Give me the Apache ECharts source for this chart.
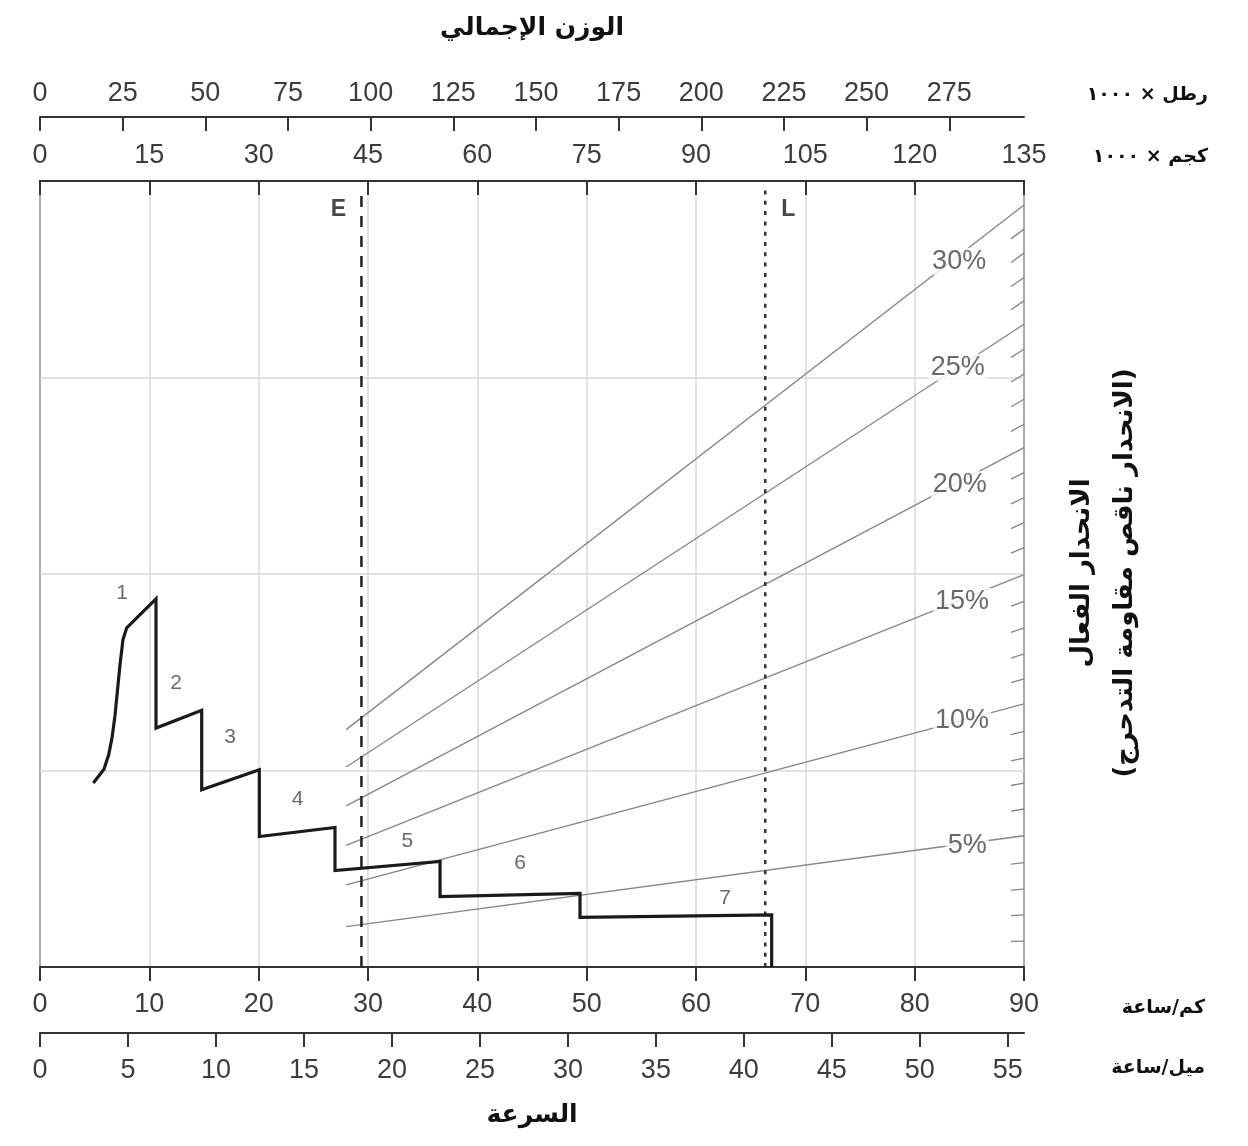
<!DOCTYPE html>
<html><head><meta charset="utf-8">
<script src="https://cdn.jsdelivr.net/npm/echarts@6/dist/echarts.min.js"></script>
<style>html,body{margin:0;padding:0;background:#fff}#c{width:1248px;height:1146px}</style>
</head><body><div id="c"></div>
<script>
// ---- axis scales ----
const kmhMax = 90;
const mphMax = 55.92;
const kgMax = 135;
const lbMax = 297.6;
const mphTicks = [0,5,10,15,20,25,30,35,40,45,50,55];
const lbTicks = [0,25,50,75,100,125,150,175,200,225,250,275];
const forceMax = 40;

// ---- rimpull curve (speed km/h, force units) ----
const rimpullSpeed = [4.88,5.85,6.28,6.59,6.86,7.09,7.32,7.59,7.93,10.61,10.61,14.79,14.79,20.06,20.06,26.98,26.98,36.59,36.59,49.39,49.39,66.92,66.92];
const rimpullForce = [9.36,10.07,10.80,11.67,12.79,14.11,15.39,16.66,17.26,18.74,12.16,13.06,9.02,10.04,6.64,7.10,4.91,5.37,3.58,3.75,2.53,2.65,0];

// ---- gear labels ----
const gearNames = ['1','2','3','4','5','6','7'];
const gearLabelSpeed = [7.5,12.44,17.38,23.55,33.6,43.9,62.65];
const gearLabelForce = [19.0,14.42,11.68,8.53,6.42,5.28,3.5];

// ---- grade lines (weight kg x1000, force units) ----
const gradeNames = ['5%','10%','15%','20%','25%','30%'];
const gradeStartWeight = 42;
const gradeStartForce = [2.05,4.18,6.19,8.2,10.18,12.08];
const gradeEndWeight = 135;
const gradeEndForce = [6.68,13.39,19.97,26.43,32.71,38.78];
const gradeLabelWeight = [127.2,126.5,126.5,126.2,125.9,126.1];
const gradeLabelForce = [6.17,12.54,18.6,24.56,30.52,35.92];
// minor grade ticks at right edge (1..29 %, excluding multiples of 5)
const gradeTickForce = [1.32,2.65,3.96,5.31,8.04,9.36,10.63,11.99,14.66,15.93,17.26,18.61,21.34,22.61,23.88,25.16,27.62,28.89,30.17,31.44,33.90,35.09,36.33,37.55];

// ---- empty / loaded weights ----
const weightMarkNames = ['E','L'];
const weightMarkValues = [44.1, 99.5];

const numFont = 'Liberation Sans, Arial, sans-serif';
const arFont = 'DejaVu Sans, sans-serif';
const axisCol = '#333';
const numCol = '#3c3c3c';

const chart = echarts.init(document.getElementById('c'), null, {renderer:'canvas'});

const gradeSeries = gradeNames.map((n,i)=>({
  type:'line', name:n, xAxisIndex:2, yAxisIndex:0, symbol:'none', silent:true, z:3,
  lineStyle:{color:'#858585', width:1.3},
  data:[[gradeStartWeight, gradeStartForce[i]],[gradeEndWeight, gradeEndForce[i]]]
}));

const option = {
  animation:false,
  backgroundColor:'#fff',
  grid:{left:40, right:224, top:181, bottom:179, show:true, borderColor:'#222', borderWidth:2},
  xAxis:[
    {type:'value', position:'bottom', min:0, max:kmhMax, interval:10,
     axisLine:{show:true, onZero:false, lineStyle:{color:axisCol, width:2}},
     axisTick:{show:true, length:14, lineStyle:{color:axisCol, width:2}},
     axisLabel:{margin:24, fontSize:27, color:numCol, fontFamily:numFont},
     splitLine:{show:true, lineStyle:{color:'#d8d8d8', width:1.5}}},
    {type:'value', position:'bottom', offset:66, min:0, max:mphMax,
     axisLine:{show:true, onZero:false, lineStyle:{color:axisCol, width:2}},
     axisTick:{show:true, length:14, customValues:mphTicks, lineStyle:{color:axisCol, width:2}},
     axisLabel:{margin:24, fontSize:27, color:numCol, fontFamily:numFont, customValues:mphTicks},
     splitLine:{show:false}},
    {type:'value', position:'top', min:0, max:kgMax, interval:15,
     axisLine:{show:true, onZero:false, lineStyle:{color:axisCol, width:2}},
     axisTick:{show:true, inside:true, length:14, lineStyle:{color:axisCol, width:2}},
     axisLabel:{margin:12, fontSize:27, color:numCol, fontFamily:numFont},
     splitLine:{show:false}},
    {type:'value', position:'top', offset:64, min:0, max:lbMax,
     axisLine:{show:true, onZero:false, lineStyle:{color:axisCol, width:2}},
     axisTick:{show:true, inside:true, length:14, customValues:lbTicks, lineStyle:{color:axisCol, width:2}},
     axisLabel:{margin:10, fontSize:27, color:numCol, fontFamily:numFont, customValues:lbTicks},
     splitLine:{show:false}}
  ],
  yAxis:[
    {type:'value', min:0, max:forceMax, interval:10,
     axisLine:{show:false}, axisTick:{show:false}, axisLabel:{show:false},
     splitLine:{show:true, lineStyle:{color:'#d8d8d8', width:1.5}}}
  ],
  series:[
    ...gradeSeries,
    {type:'custom', xAxisIndex:2, yAxisIndex:0, silent:true, z:3,
     data: gradeTickForce.map(v=>[gradeEndWeight, v]),
     renderItem:(params, api)=>{
       const e = api.coord([api.value(0), api.value(1)]);
       const o = api.coord([0,0]);
       const L = 13;
       const sx = e[0]-L;
       const sy = e[1] + (o[1]-e[1])*L/(e[0]-o[0]);
       return {type:'line', shape:{x1:sx,y1:sy,x2:e[0],y2:e[1]}, style:{stroke:'#858585', lineWidth:1.3}};
     }},
    {type:'scatter', xAxisIndex:2, yAxisIndex:0, symbolSize:0, silent:true, z:5,
     data: gradeNames.map((n,i)=>[gradeLabelWeight[i], gradeLabelForce[i], n]),
     label:{show:true, position:'inside', formatter:p=>p.data[2], fontSize:27, color:'#444', fontFamily:numFont,
            backgroundColor:'#fff', padding:[0,2]}},
    {type:'line', name:'E', xAxisIndex:2, yAxisIndex:0, symbol:'none', silent:true, z:6,
     lineStyle:{color:'#222', width:2.5, type:[11,9]},
     data:[[weightMarkValues[0],0],[weightMarkValues[0],forceMax-0.4]]},
    {type:'line', name:'L', xAxisIndex:2, yAxisIndex:0, symbol:'none', silent:true, z:6,
     lineStyle:{color:'#333', width:2.5, type:[4,6.3]},
     data:[[weightMarkValues[1],0],[weightMarkValues[1],forceMax-0.4]]},
    {type:'scatter', xAxisIndex:2, yAxisIndex:0, symbolSize:0, silent:true, z:7,
     data: weightMarkNames.map((n,i)=>({value:[weightMarkValues[i], forceMax, n],
        label:{offset:[i===0?-23:23, 29]}})),
     label:{show:true, position:'inside', formatter:p=>p.data.value[2], fontSize:23, fontWeight:'bold', color:'#1a1a1a', fontFamily:numFont}},
    {type:'line', name:'rimpull', xAxisIndex:0, yAxisIndex:0, symbol:'none', silent:true, z:8,
     lineStyle:{color:'#1a1a1a', width:3.2, join:'miter'},
     data: rimpullSpeed.map((s,i)=>[s, rimpullForce[i]])},
    {type:'scatter', xAxisIndex:0, yAxisIndex:0, symbolSize:0, silent:true, z:8,
     data: gearNames.map((n,i)=>[gearLabelSpeed[i], gearLabelForce[i], n]),
     label:{show:true, position:'inside', formatter:p=>p.data[2], fontSize:21, color:'#444', fontFamily:numFont}}
  ],
  graphic:[
    {type:'text', x:532, y:28, style:{text:'الوزن الإجمالي', font:'bold 25px '+arFont, fill:'#111', align:'center', verticalAlign:'middle'}},
    {type:'text', x:532, y:1115, style:{text:'السرعة', font:'bold 25px '+arFont, fill:'#111', align:'center', verticalAlign:'middle'}},
    {type:'text', x:1208, y:95, style:{text:'رطل × ١٠٠٠', font:'bold 19px '+arFont, fill:'#111', align:'right', verticalAlign:'middle'}},
    {type:'text', x:1208, y:157, style:{text:'كجم × ١٠٠٠', font:'bold 19px '+arFont, fill:'#111', align:'right', verticalAlign:'middle'}},
    {type:'text', x:1205, y:1008, style:{text:'كم/ساعة', font:'bold 19px '+arFont, fill:'#111', align:'right', verticalAlign:'middle'}},
    {type:'text', x:1205, y:1068, style:{text:'ميل/ساعة', font:'bold 19px '+arFont, fill:'#111', align:'right', verticalAlign:'middle'}},
    {type:'text', x:1104, y:573, rotation:Math.PI/2,
     style:{text:'الانحدار الفعال\n(الانحدار ناقص مقاومة التدحرج)', font:'bold 26px '+arFont, fill:'#111', align:'center', verticalAlign:'middle', lineHeight:43}}
  ]
};
chart.setOption(option);
</script>
</body></html>
